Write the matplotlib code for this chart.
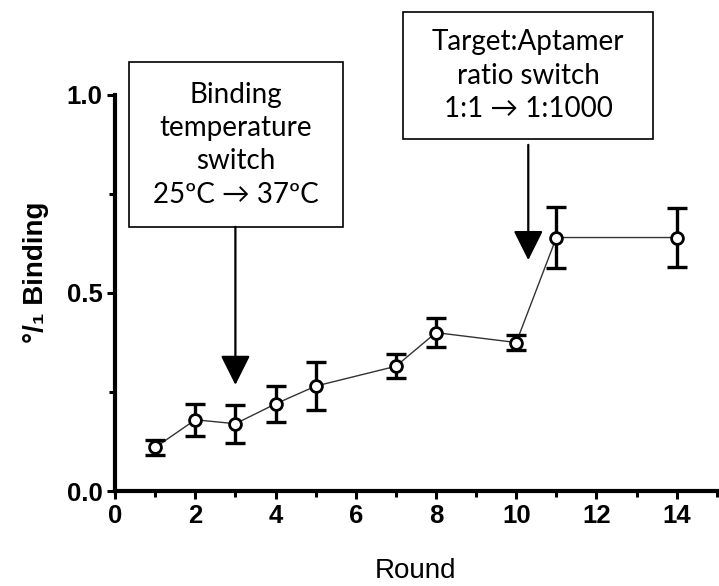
import numpy as np
import matplotlib
matplotlib.use('Agg')
import matplotlib.pyplot as plt
from matplotlib.patches import Rectangle

rounds  = [1, 2, 3, 4, 5, 7, 8, 10, 11, 14]
binding = [0.11, 0.18, 0.17, 0.22, 0.265, 0.315, 0.40, 0.375, 0.64, 0.64]
err     = [0.02, 0.04, 0.048, 0.045, 0.06, 0.03, 0.037, 0.02, 0.078, 0.075]

box1_text = "Binding\ntemperature\nswitch\n25ºC \u2192 37ºC"
box2_text = "Target:Aptamer\nratio switch\n1:1 \u2192 1:1000"

fig = plt.figure(figsize=(7.19, 5.86), dpi=100)
ax = fig.add_axes([0.160, 0.162, 0.837, 0.676])

ax.plot(rounds, binding, '-', color='#333333', lw=1, zorder=2)
ax.errorbar(rounds, binding, yerr=err, fmt='none', ecolor='black',
            elinewidth=2.4, capsize=7, capthick=2.4, zorder=3)
ax.plot(rounds, binding, 'o', ms=8.5, mfc='white', mec='black', mew=2, zorder=4)

ax.set_xlim(0, 15)
ax.set_ylim(0, 1.0)
ax.set_xticks(np.arange(0, 15, 2))
ax.set_xticks(np.arange(1, 16, 2), minor=True)
ax.set_yticks([0.0, 0.5, 1.0])
ax.set_yticks([0.25, 0.75], minor=True)
ax.set_yticklabels(['0.0', '0.5', '1.0'])

for s in ['top', 'right']:
    ax.spines[s].set_visible(False)
for s in ['left', 'bottom']:
    ax.spines[s].set_linewidth(3)
ax.tick_params(which='major', length=6, width=2.2, direction='out', pad=3)
ax.tick_params(which='minor', length=4, width=2.2, direction='out')
for lab in ax.get_xticklabels() + ax.get_yticklabels():
    lab.set_fontfamily('Liberation Sans')
    lab.set_fontweight('bold')
    lab.set_fontsize(18.5)

ax.set_xlabel('Round', fontfamily='Liberation Sans', fontsize=20, labelpad=22)
ax.set_ylabel('\u00b0/\u2081 Binding', fontfamily=['Liberation Sans', 'DejaVu Sans'],
              fontsize=20, fontweight='bold')
ax.yaxis.set_label_coords(-0.11, 0.553)

# annotation boxes (figure fraction)
fig.patches.append(Rectangle((0.179, 0.6126), 0.298, 0.282, transform=fig.transFigure,
                             fill=False, ec='black', lw=1.2, figure=fig))
fig.text(0.328, 0.753, box1_text, ha='center', va='center', fontfamily='Lato',
         fontsize=20, linespacing=1.35)
fig.patches.append(Rectangle((0.5605, 0.7628), 0.3477, 0.2167, transform=fig.transFigure,
                             fill=False, ec='black', lw=1.2, figure=fig))
fig.text(0.7344, 0.871, box2_text, ha='center', va='center', fontfamily='Lato',
         fontsize=20, linespacing=1.35)

arrow = dict(arrowstyle='-|>,head_length=0.4,head_width=0.2', mutation_scale=46,
             lw=1.6, color='black', shrinkA=0, shrinkB=0)
ax.annotate('', xy=(3, 0.268), xytext=(3, 0.667), arrowprops=arrow, annotation_clip=False)
ax.annotate('', xy=(10.3, 0.583), xytext=(10.3, 0.874), arrowprops=arrow, annotation_clip=False)

fig.savefig('out.png', dpi=100)
